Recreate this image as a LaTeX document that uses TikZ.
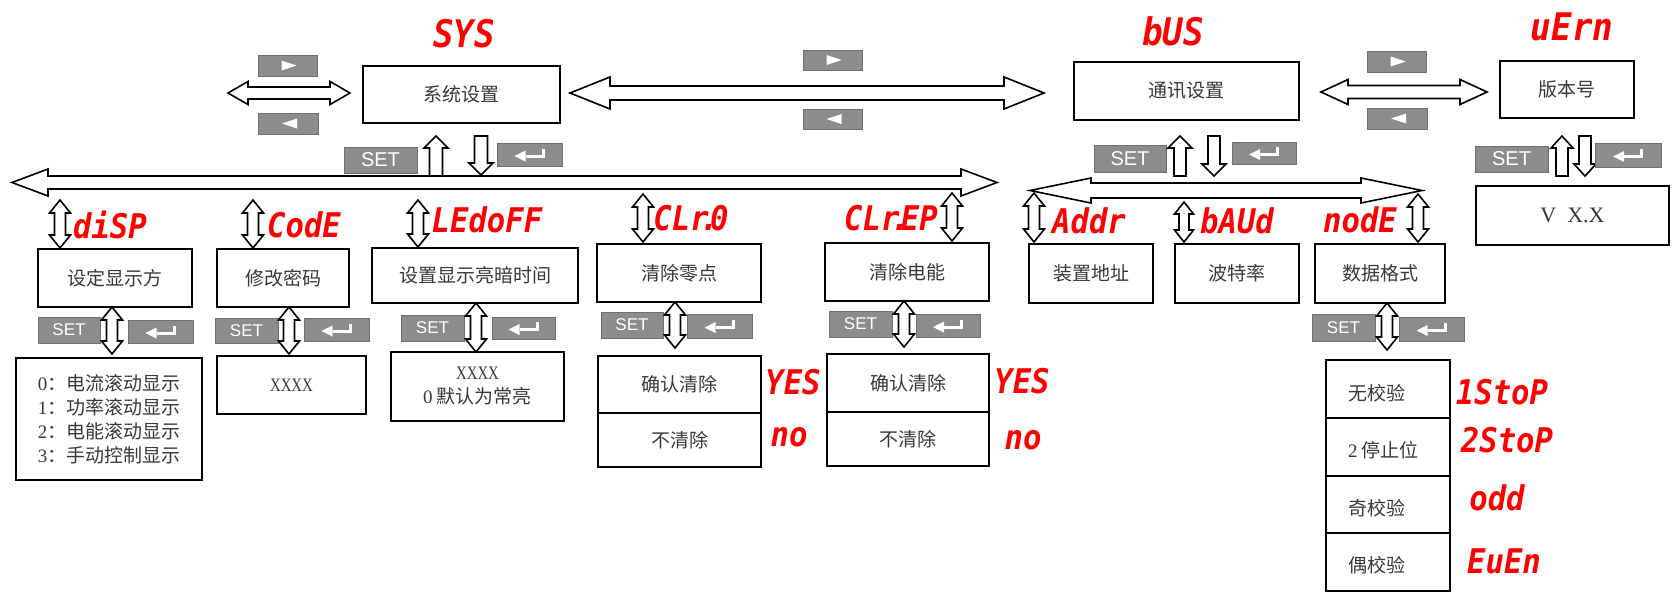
\documentclass[tikz,border=0pt]{standalone}
\usepackage{fontspec}
\setmainfont{Liberation Serif}
\newfontfamily\cjk{Noto Sans CJK SC}
\newfontfamily\seg[FakeStretch=0.9]{DejaVu Sans Mono}
\newfontfamily\btnfont{Liberation Sans}
\newfontfamily\nserif[FakeStretch=0.78]{Liberation Serif}
\definecolor{btngray}{RGB}{140,140,140}
\definecolor{btnedge}{RGB}{112,112,112}
\definecolor{segred}{RGB}{255,0,0}
\tikzset{
  box/.style={draw=black, line width=1.8pt, inner sep=0pt, font=\cjk\fontsize{19}{24}\selectfont, text=black!78},
  ptext/.style={inner sep=0pt, font=\cjk\fontsize{19}{24}\selectfont, text=black!78},
  seglbl/.style={text=segred, inner sep=0pt, font=\seg\bfseries\itshape\fontsize{34}{34}\selectfont},
  segbig/.style={seglbl, font=\seg\bfseries\itshape\fontsize{38}{38}\selectfont},
  btn/.style={fill=btngray, draw=btnedge, line width=0.8pt, inner sep=0pt, text=white, font=\btnfont\fontsize{17}{17}\selectfont},
  btnbig/.style={btn, font=\btnfont\fontsize{20}{20}\selectfont},
  barrow/.style={draw=black, fill=white, line width=1.6pt, line join=miter},
  icR/.pic={\fill[white] (-6,-5) -- (9,0) -- (-6,5) -- cycle;},
  icL/.pic={\fill[white] (9,-5) -- (-6,0) -- (9,5) -- cycle;},
  icE/.pic={\fill[white] (12,-6) rectangle (15,3); \fill[white] (-4,0) rectangle (15,3); \fill[white] (-4,-4) -- (-15,1.5) -- (-4,7) -- cycle;}
}
% box: [opts] name x1 y1 x2 y2 text
\newcommand\mkbox[7][]{\node[box,#1,minimum width={(#5-#3)*1pt},minimum height={(#6-#4)*1pt}] (#2) at ({(#3+#5)/2},{(#4+#6)/2}) {#7};}
% button: [style] name x1 y1 x2 y2 text
\newcommand\mkbtn[7][btn]{\node[#1,minimum width={(#5-#3)*1pt},minimum height={(#6-#4)*1pt}] (#2) at ({(#3+#5)/2},{(#4+#6)/2}) {#7};}
% horizontal double block arrow: x1 x2 y shaft-half head-half head-length
\newcommand\HDA[6]{\draw[barrow] (#1,#3) -- ({#1+#6},{#3-#5}) -- ({#1+#6},{#3-#4}) -- ({#2-#6},{#3-#4}) -- ({#2-#6},{#3-#5}) -- (#2,#3) -- ({#2-#6},{#3+#5}) -- ({#2-#6},{#3+#4}) -- ({#1+#6},{#3+#4}) -- ({#1+#6},{#3+#5}) -- cycle;}
% vertical double block arrow: x y1 y2 shaft-half head-half head-length
\newcommand\VDA[6]{\draw[barrow] (#1,#2) -- ({#1+#5},{#2+#6}) -- ({#1+#4},{#2+#6}) -- ({#1+#4},{#3-#6}) -- ({#1+#5},{#3-#6}) -- (#1,#3) -- ({#1-#5},{#3-#6}) -- ({#1-#4},{#3-#6}) -- ({#1-#4},{#2+#6}) -- ({#1-#5},{#2+#6}) -- cycle;}
% up block arrow: x ytip ybottom sh hh hl
\newcommand\VUP[6]{\draw[barrow] (#1,#2) -- ({#1+#5},{#2+#6}) -- ({#1+#4},{#2+#6}) -- ({#1+#4},#3) -- ({#1-#4},#3) -- ({#1-#4},{#2+#6}) -- ({#1-#5},{#2+#6}) -- cycle;}
% down block arrow: x ytop ytip sh hh hl
\newcommand\VDN[6]{\draw[barrow] (#1,#3) -- ({#1+#5},{#3-#6}) -- ({#1+#4},{#3-#6}) -- ({#1+#4},#2) -- ({#1-#4},#2) -- ({#1-#4},{#3-#6}) -- ({#1-#5},{#3-#6}) -- cycle;}
\begin{document}
\begin{tikzpicture}[x=1pt,y=-1pt]
\useasboundingbox (0,0) rectangle (1673,592);

% ---------- top level ----------
\mkbox{sys}{363}{66}{560}{123}{系统设置}
\mkbox{bus}{1074}{62}{1299}{120}{通讯设置}
\mkbox{ver}{1500}{61}{1634}{118}{版本号}
\mkbox[font=\rmfamily\fontsize{22}{24}\selectfont]{verd}{1476}{186}{1669}{245}{V\ \ X.X}

\node[segbig] (lsys) at (464,34) {SYS};
\node[segbig] (lbus) at (1173,31) {bUS};
\node[segbig] (lver) at (1572,27) {uErn};

\HDA{228}{350}{93}{6}{11.5}{20}
\HDA{570}{1044}{93}{7}{16}{40}
\HDA{1321}{1487}{92}{6.5}{12.5}{27}

\mkbtn{b1}{258}{55}{317}{76}{}   \pic at (b1.center) {icR};
\mkbtn{b2}{258}{113}{318}{134}{} \pic at (b2.center) {icL};
\mkbtn{b3}{803}{50}{862}{70}{}   \pic at (b3.center) {icR};
\mkbtn{b4}{803}{109}{862}{129}{} \pic at (b4.center) {icL};
\mkbtn{b5}{1367}{51}{1426}{72}{} \pic at (b5.center) {icR};
\mkbtn{b6}{1367}{108}{1427}{129}{} \pic at (b6.center) {icL};

% SYS -> submenu
\mkbtn[btnbig]{s1}{344}{147}{417}{173}{SET}
\VUP{436}{136}{176}{6.5}{12}{12}
\VDN{481}{136}{175}{6.5}{12}{12}
\mkbtn{e1}{497}{143}{562}{166}{} \pic at (e1.center) {icE};

% bUS -> submenu
\mkbtn[btnbig]{s2}{1094}{145}{1166}{172}{SET}
\VUP{1180}{136}{176}{6}{12}{12}
\VDN{1214}{136}{176}{6}{12}{12}
\mkbtn{e2}{1232}{142}{1296}{164}{} \pic at (e2.center) {icE};

% uErn -> value
\mkbtn[btnbig]{s3}{1475}{146}{1548}{172}{SET}
\VUP{1562}{136}{176}{6}{11}{12}
\VDN{1585}{136}{176}{6}{11}{12}
\mkbtn{e3}{1595}{143}{1661}{167}{} \pic at (e3.center) {icE};

% long horizontal arrows
\HDA{12}{997}{182.5}{6.5}{13.5}{36}
\HDA{1030}{1422}{190.5}{7.5}{12.5}{61}

% ---------- level 2 ----------
\VDA{60}{200}{248}{5.5}{10.5}{13}
\VDA{253}{200}{248}{5.5}{10.5}{13}
\VDA{418}{200}{247}{5.5}{10.5}{13}
\VDA{643}{194}{242}{5.5}{10.5}{13}
\VDA{952}{193}{241}{5.5}{10.5}{13}
\VDA{1034}{193}{242}{5.5}{10.5}{13}
\VDA{1184}{202}{242}{5}{9.5}{12}
\VDA{1418}{194}{242}{5.5}{10.5}{13}

\node[seglbl] (ldisp) at (110,225) {diSP};
\node[seglbl] (lcode) at (304,225) {CodE};
\node[seglbl] (lled) at (487,220) {LEdoFF};
\node[seglbl] (lclr0) at (691,218) {CLr{\kern-.25em}.{\kern-.25em}0};
\node[seglbl] (lclrep) at (891,218) {CLr{\kern-.25em}.{\kern-.25em}EP};
\node[seglbl] (laddr) at (1089,221) {Addr};
\node[seglbl] (lbaud) at (1237,221) {bAUd};
\node[seglbl] (lnode) at (1360,220) {nodE};

\mkbox{disp}{38}{249}{192}{307}{设定显示方}
\mkbox{code}{217}{249}{349}{307}{修改密码}
\mkbox{led}{372}{248}{578}{303}{设置显示亮暗时间}
\mkbox{clr0}{597}{244}{761}{302}{清除零点}
\mkbox{clrep}{825}{243}{989}{301}{清除电能}
\mkbox{addr}{1029}{244}{1153}{303}{装置地址}
\mkbox{baud}{1175}{244}{1299}{303}{波特率}
\mkbox{node}{1315}{244}{1445}{303}{数据格式}

% SET rows level 2
\mkbtn{s4}{38}{317}{100}{343}{SET}    \VDA{112}{307}{354}{5.5}{10.5}{13} \mkbtn{e4}{128}{320}{193}{343}{} \pic at (e4.center) {icE};
\mkbtn{s5}{215}{318}{278}{343}{SET}   \VDA{289}{307}{354}{5.5}{10.5}{13} \mkbtn{e5}{304}{318}{369}{341}{} \pic at (e5.center) {icE};
\mkbtn{s6}{401}{315}{464}{341}{SET}   \VDA{476}{303}{352}{5.5}{10.5}{13} \mkbtn{e6}{492}{317}{555}{339}{} \pic at (e6.center) {icE};
\mkbtn{s7}{601}{312}{663}{338}{SET}   \VDA{675}{302}{348}{5.5}{10.5}{13} \mkbtn{e7}{687}{314}{752}{338}{} \pic at (e7.center) {icE};
\mkbtn{s8}{829}{311}{892}{337}{SET}   \VDA{904}{301}{347}{5.5}{10.5}{13} \mkbtn{e8}{916}{314}{980}{337}{} \pic at (e8.center) {icE};
\mkbtn{s9}{1312}{314}{1375}{341}{SET} \VDA{1387}{303}{350}{5.5}{10.5}{13} \mkbtn{e9}{1399}{317}{1464}{341}{} \pic at (e9.center) {icE};

% ---------- level 3 ----------
\mkbox[align=left]{dispd}{16}{358}{202}{480}{{\rmfamily 0}：电流滚动显示\\{\rmfamily 1}：功率滚动显示\\{\rmfamily 2}：电能滚动显示\\{\rmfamily 3}：手动控制显示}
\mkbox[font=\nserif\fontsize{19}{24}\selectfont]{coded}{217}{356}{366}{414}{XXXX}
\mkbox[align=center]{ledd}{391}{352}{564}{421}{{\nserif XXXX}\\{\rmfamily 0} 默认为常亮}

\mkbox{y1}{598}{356}{761}{413}{确认清除}
\mkbox{n1}{598}{413}{761}{467}{不清除}
\mkbox{y2}{827}{354}{989}{412}{确认清除}
\mkbox{n2}{827}{412}{989}{466}{不清除}
\node[seglbl] (ly1) at (793,382) {YES};
\node[seglbl] (ln1) at (789,437) {no};
\node[seglbl] (ly2) at (1022,381) {YES};
\node[seglbl] (ln2) at (1023,440) {no};

\mkbox{p1}{1326}{360}{1450}{418}{}
\mkbox{p2}{1326}{418}{1450}{476}{}
\mkbox{p3}{1326}{476}{1450}{533}{}
\mkbox{p4}{1326}{533}{1450}{591}{}
\node[ptext, anchor=west] (t1) at (1348,393) {无校验};
\node[ptext, anchor=west] (t2) at (1348,450) {{\rmfamily 2} 停止位};
\node[ptext, anchor=west] (t3) at (1348,508) {奇校验};
\node[ptext, anchor=west] (t4) at (1348,565) {偶校验};
\node[seglbl] (lp1) at (1502,392) {1StoP};
\node[seglbl] (lp2) at (1507,440) {2StoP};
\node[seglbl] (lp3) at (1497,498) {odd};
\node[seglbl] (lp4) at (1504,561) {EuEn};
\end{tikzpicture}
\end{document}
